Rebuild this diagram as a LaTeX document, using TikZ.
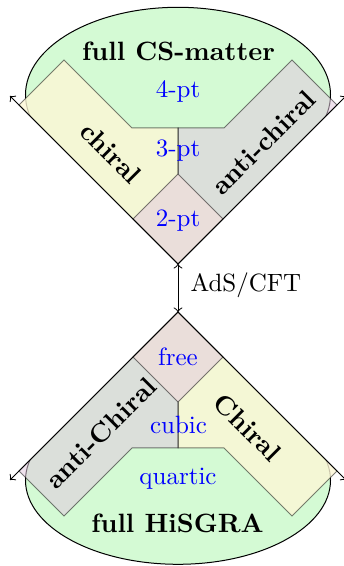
\documentclass[tikz,border=0pt]{standalone}
\usepackage{fontspec}
\definecolor{gbase}{RGB}{212,250,212}
\definecolor{ybase}{RGB}{253,247,214}
\definecolor{vbase}{RGB}{226,202,223}
\tikzset{
  conelines/.style={draw=black, line width=0.4pt, <->},
  bandY/.style={fill=ybase, fill opacity=0.8},
  bandV/.style={fill=vbase, fill opacity=0.55},
  bandedge/.style={draw=black, draw opacity=0.5, line width=0.4pt},
  rimline/.style={draw=black, line width=0.4pt},
  ptlbl/.style={text=blue, font=\fontsize{10}{12}\selectfont, inner sep=0, anchor=base},
  plainlbl/.style={font=\fontsize{10}{12}\selectfont, inner sep=0, anchor=base west},
  titlelbl/.style={font=\fontsize{10.6}{12.7}\selectfont\bfseries, inner sep=0, anchor=base},
  bandlbl/.style={font=\fontsize{10.6}{12.7}\selectfont\bfseries, inner sep=0},
}
\begin{document}
\begin{tikzpicture}[x=0.4pt, y=0.4pt]
\useasboundingbox (0,0) rectangle (344,566);
% key points
\coordinate (aT) at (178,302);
\coordinate (aB) at (178,254);
\coordinate (tTL) at (10,470);
\coordinate (tTR) at (346,470);
\coordinate (tBL) at (10,86);
\coordinate (tBR) at (346,86);
\coordinate (cT) at (178,471.2);
\coordinate (cB) at (178,85.7);

% ---- top: full CS-matter region (ellipse + cone)
\begin{scope}
  \clip (aT) -- (-120,600) -- (476,600) -- cycle;
  \fill[gbase] (cT) ellipse [x radius=61pt, y radius=35pt];
  \fill[gbase] (-120,449.9) rectangle (476,302);
  \clip (-120,449.9) rectangle (476,600);
  \draw[rimline] (cT) ellipse [x radius=61pt, y radius=35pt];
\end{scope}
% ---- bottom: full HiSGRA region
\begin{scope}
  \clip (aB) -- (-200,-124) -- (556,-124) -- cycle;
  \fill[gbase] (cB) ellipse [x radius=61pt, y radius=33.6pt];
  \fill[gbase] (-200,106.05) rectangle (556,254);
  \clip (-200,106.05) rectangle (556,-124);
  \draw[rimline] (cB) ellipse [x radius=61pt, y radius=33.6pt];
\end{scope}

% ---- bands, top
\fill[bandY] (19,461) -- (64,506) -- (132,438) -- (178,438) -- (178,392) -- (223,347) -- (aT) -- cycle;
\fill[bandV] (337,461) -- (292,506) -- (224,438) -- (178,438) -- (178,392) -- (133,347) -- (aT) -- cycle;
% ---- bands, bottom
\fill[bandY] (337,95) -- (292,50) -- (224,118) -- (178,118) -- (178,164) -- (133,209) -- (aB) -- cycle;
\fill[bandV] (19,95) -- (64,50) -- (132,118) -- (178,118) -- (178,164) -- (223,209) -- (aB) -- cycle;
% band outlines
\draw[bandedge] (19,461) -- (64,506) -- (132,438) -- (178,438) -- (178,392) -- (223,347) -- (aT) -- cycle;
\draw[bandedge] (337,461) -- (292,506) -- (224,438) -- (178,438) -- (178,392) -- (133,347) -- (aT) -- cycle;
\draw[bandedge] (337,95) -- (292,50) -- (224,118) -- (178,118) -- (178,164) -- (133,209) -- (aB) -- cycle;
\draw[bandedge] (19,95) -- (64,50) -- (132,118) -- (178,118) -- (178,164) -- (223,209) -- (aB) -- cycle;

% ---- light cones
\draw[conelines] (tTL) -- (aT) -- (tTR);
\draw[conelines] (tBL) -- (aB) -- (tBR);
\draw[<->, line width=0.4pt] (aT) -- (aB);

% ---- labels
\node[titlelbl] (cs) at (178.5,505) {full CS-matter};
\node[ptlbl] (p4) at (178,468.5) {4-pt};
\node[ptlbl] (p3) at (178,409.3) {3-pt};
\node[ptlbl] (p2) at (178,339.3) {2-pt};
\node[bandlbl, rotate=-45] (chi) at (111,413) {chiral};
\node[bandlbl, rotate=45] (achi) at (263.5,423.5) {anti-chiral};
\node[plainlbl] (ads) at (190,274.5) {AdS/CFT};
\node[ptlbl] (free) at (178,200) {free};
\node[ptlbl] (cub) at (178.5,132) {cubic};
\node[ptlbl] (quar) at (178,81) {quartic};
\node[titlelbl] (hs) at (177.5,33) {full HiSGRA};
\node[bandlbl, rotate=45] (aChi) at (101,133) {anti-Chiral};
\node[bandlbl, rotate=-45] (Chi) at (247.5,138.5) {Chiral};
\end{tikzpicture}
\end{document}
